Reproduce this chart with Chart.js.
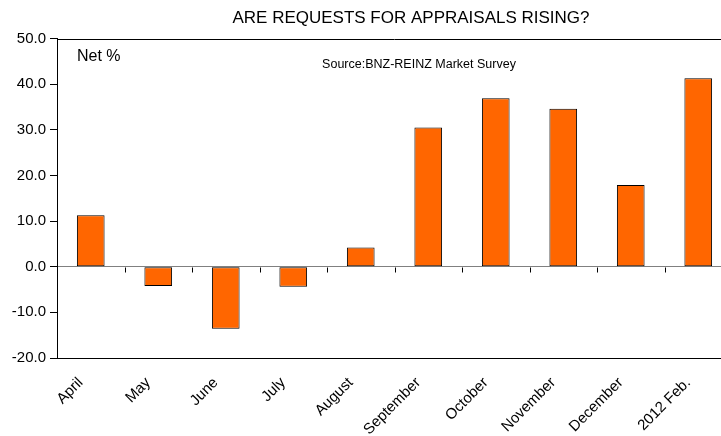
<!DOCTYPE html>
<html>
<head>
<meta charset="utf-8">
<style>
  html, body { margin: 0; padding: 0; background: #fff; overflow: hidden; }
  #wrap { width: 740px; height: 436px; }
</style>
<script src="https://cdn.jsdelivr.net/npm/chart.js@4/dist/chart.umd.min.js"></script>
</head>
<body>
<div id="wrap"><canvas id="c" width="740" height="436"></canvas></div>
<script>
const months = ['April', 'May', 'June', 'July', 'August', 'September', 'October', 'November', 'December', '2012 Feb.'];
const netPct = [11.3, -4.2, -13.6, -4.4, 4.2, 30.5, 36.9, 34.6, 17.9, 41.3];
const yMin = -20, yMax = 50, yStep = 10;

const chartTitle = 'ARE REQUESTS FOR APPRAISALS RISING?';
const unitLabel = 'Net %';
const sourceLabel = 'Source:BNZ-REINZ Market Survey';

const FONT = '"Liberation Sans", Arial, sans-serif';

// Frame pieces Chart.js doesn't draw on its own: top border,
// category ticks along the zero line, and the text annotations.
const decorations = {
  id: 'decorations',
  afterDraw(chart) {
    const { ctx, chartArea: a, scales: { x, y } } = chart;
    ctx.save();
    ctx.strokeStyle = '#000';
    ctx.lineWidth = 1;
    ctx.beginPath();
    ctx.moveTo(a.left, Math.round(a.top) + 0.5);
    ctx.lineTo(a.right, Math.round(a.top) + 0.5);
    ctx.stroke();

    const y0 = Math.round(y.getPixelForValue(0)) + 0.5;
    ctx.beginPath();
    for (let i = 1; i < months.length; i++) {
      const px = Math.round((x.getPixelForValue(i - 1) + x.getPixelForValue(i)) / 2) + 0.5;
      ctx.moveTo(px, y0);
      ctx.lineTo(px, y0 + 5);
    }
    ctx.stroke();

    ctx.fillStyle = '#000';
    ctx.textBaseline = 'middle';
    ctx.textAlign = 'center';
    ctx.font = '17px ' + FONT;
    ctx.fillText(chartTitle, 411, 18);
    ctx.textAlign = 'left';
    ctx.font = '16px ' + FONT;
    ctx.fillText(unitLabel, 77, 57);
    ctx.textAlign = 'center';
    ctx.font = '12.5px ' + FONT;
    ctx.fillText(sourceLabel, 419, 65);
    ctx.restore();
  }
};

new Chart(document.getElementById('c'), {
  type: 'bar',
  data: {
    labels: months,
    datasets: [{
      data: netPct,
      backgroundColor: '#FF6600',
      borderColor: '#000',
      borderWidth: 1,
      borderSkipped: false,
      barPercentage: 0.82,
      categoryPercentage: 0.5
    }]
  },
  options: {
    responsive: false,
    animation: false,
    devicePixelRatio: 1,
    layout: { padding: { top: 38.5, right: 8, left: 0, bottom: 0 } },
    plugins: { legend: { display: false }, tooltip: { enabled: false }, title: { display: false } },
    scales: {
      x: {
        grid: { display: true, drawOnChartArea: false, drawTicks: false },
        border: { display: true, color: '#000', width: 1 },
        ticks: {
          color: '#000',
          font: { family: FONT, size: 15 },
          minRotation: 45,
          maxRotation: 45,
          padding: 16,
          labelOffset: -10,
          autoSkip: false
        },
        afterFit(s) { s.height = 78; }
      },
      y: {
        min: yMin,
        max: yMax,
        grid: {
          drawOnChartArea: true,
          drawTicks: true,
          tickLength: 7,
          tickColor: '#000',
          color: (c) => (c.tick && c.tick.value === 0) ? '#808080' : 'rgba(0,0,0,0)'
        },
        border: { display: true, color: '#000', width: 1 },
        ticks: {
          stepSize: yStep,
          color: '#000',
          font: { family: FONT, size: 15 },
          padding: 4,
          callback: (v) => Number(v).toFixed(1)
        },
        afterFit(s) { s.width = 57; }
      }
    }
  },
  plugins: [decorations]
});
</script>
</body>
</html>
